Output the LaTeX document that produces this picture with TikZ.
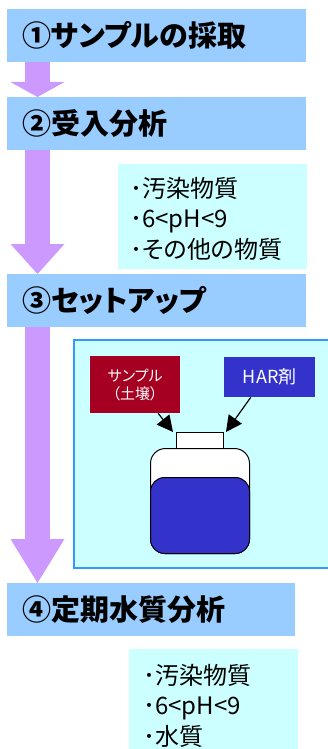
\documentclass[tikz,border=0pt]{standalone}
\usepackage{fontspec}
\setmainfont{Noto Sans CJK JP}[RawFeature=+palt]
\usetikzlibrary{arrows.meta,calc}
\definecolor{headfill}{HTML}{99CCFF}
\definecolor{flowfill}{HTML}{CC99FF}
\definecolor{notefill}{HTML}{CCFFFF}
\definecolor{noteedge}{HTML}{3399FF}
\definecolor{soilred}{HTML}{A50021}
\definecolor{reagent}{HTML}{3333CC}
\begin{document}
\begin{tikzpicture}[x=1pt,y=-1pt,
  header/.style={rectangle, fill=headfill, anchor=north west, minimum height=53pt,
    inner xsep=15pt, inner ysep=0pt, align=left,
    font=\fontsize{29}{29}\selectfont\bfseries},
  flow/.style={flowfill, line width=25pt,
    -{Triangle[width=54pt,length=#1,line width=0pt]}},
  notebox/.style={rectangle, fill=notefill, anchor=north west, inner sep=0pt},
  notetext/.style={anchor=north west, align=left, inner sep=0pt,
    font=\fontsize{24}{30.5}\selectfont},
  tag/.style={rectangle, anchor=north west, inner sep=0pt, text=white, align=center},
  pointer/.style={line width=1.2pt, -{Triangle[length=16pt 0 0,width=16pt 0 0]}}
]
\useasboundingbox (0,0) rectangle (327,749);

% process steps
\node[header, text width=269pt] (h1) at (7,9) {①サンプルの採取};
\node[header, text width=269pt] (h2) at (7,97) {②受入分析};
\node[header, text width=269pt] (h3) at (7,274) {③セットアップ};
\node[header, text width=258pt] (h4) at (7,583) {④定期水質分析};

% flow arrows between the steps
\coordinate (fx) at (37.5,0);
\draw[flow=15pt] (h1.south -| fx) -- (h2.north -| fx);
\draw[flow=30pt] (h2.south -| fx) -- (h3.north -| fx);
\draw[flow=44pt] (h3.south -| fx) -- (h4.north -| fx);

% analysis items after receipt
\node[notebox, minimum width=189pt, minimum height=105pt] (n1) at (118,164) {};
\node[notetext] (n1t) at (130,177) {･汚染物質\\･6<pH<9\\･その他の物質};

% setup panel
\node[rectangle, draw=noteedge, line width=1.5pt, fill=notefill, anchor=north west,
  minimum width=258pt, minimum height=228pt, inner sep=0pt] (panel) at (73,339) {};
\node[tag, fill=soilred, minimum width=90pt, minimum height=57pt,
  font=\fontsize{15}{18}\selectfont] (soil) at (90,356) {サンプル\\（土壌）};
\node[tag, fill=reagent, minimum width=91pt, minimum height=40pt,
  font=\fontsize{18}{18}\selectfont] (har) at (224,357) {HAR剤};

% bottle
\node[rectangle, draw=black, line width=1pt, fill=white, anchor=north west,
  minimum width=47pt, minimum height=16pt, inner sep=0pt] (cap) at (176,432) {};
\node[rectangle, draw=black, line width=1pt, fill=white, rounded corners=15pt,
  anchor=north west, minimum width=99pt, minimum height=105pt, inner sep=0pt] (body) at (150,448) {};
\node[rectangle, draw=black, line width=1pt, fill=reagent, rounded corners=14pt,
  anchor=south west, minimum width=99pt, minimum height=76pt, inner sep=0pt] (liquid) at (body.south west) {};

% inputs into the bottle
\draw[pointer] ($(soil.south)+(23,0)$) -- ($(cap.north west)+(-3,0)$);
\draw[pointer] ($(har.south)+(-19,0)$) -- ($(cap.north east)+(2,0)$);

% periodic water quality items
\node[notebox, minimum width=169pt, minimum height=100pt] (n4) at (129,649) {};
\node[notetext] (n4t) at (143,664) {･汚染物質\\･6<pH<9\\･水質};
\end{tikzpicture}
\end{document}
